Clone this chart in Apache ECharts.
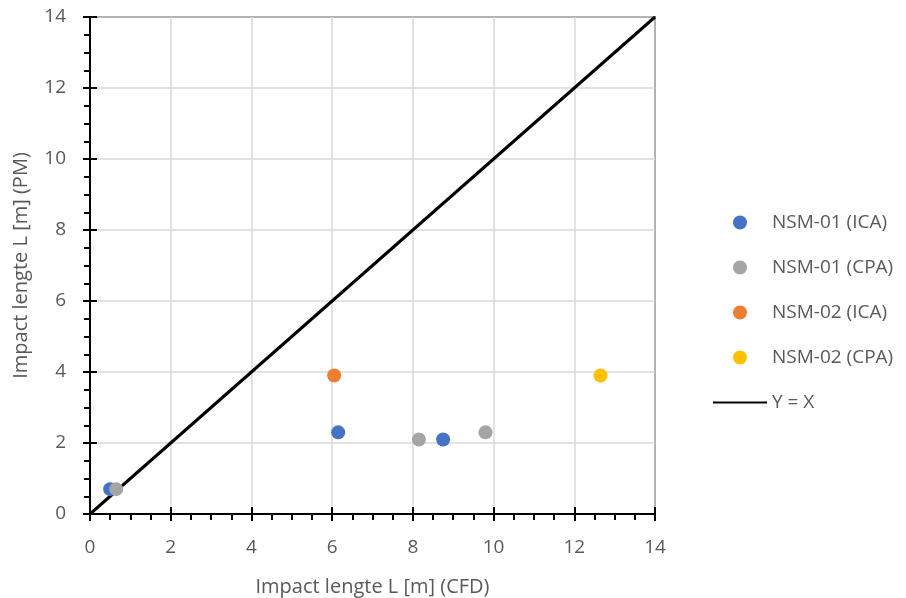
<!DOCTYPE html>
<html><head><meta charset="utf-8">
<script src="https://cdn.jsdelivr.net/npm/echarts@6/dist/echarts.min.js"></script>
<style>html,body{margin:0;padding:0;background:#fff}#c{width:906px;height:598px}</style>
</head><body><div id="c"></div>
<script>
const seriesNames = ['NSM-01 (ICA)', 'NSM-01 (CPA)', 'NSM-02 (ICA)', 'NSM-02 (CPA)'];
const seriesColors = ['#4472C4', '#A5A5A5', '#ED7D31', '#FFC000'];
const nsm01ICA = [[0.5, 0.7], [6.15, 2.3], [8.75, 2.1]];
const nsm01CPA = [[0.65, 0.7], [8.15, 2.1], [9.8, 2.3]];
const nsm02ICA = [[6.05, 3.9]];
const nsm02CPA = [[12.65, 3.9]];
const lineName = 'Y = X';
const lineData = [[0, 0], [14, 14]];
const xName = 'Impact lengte L [m] (CFD)';
const yName = 'Impact lengte L [m] (PM)';
const allData = [nsm01ICA, nsm01CPA, nsm02ICA, nsm02CPA];

const font = '"Open Sans", Lato, sans-serif';
const chart = echarts.init(document.getElementById('c'));
const axisBase = {
  type: 'value', min: 0, max: 14, interval: 2
};
chart.setOption({
  animation: false,
  textStyle: { fontFamily: font },
  grid: { left: 90, top: 17, right: 251, bottom: 84, containLabel: false, outerBoundsMode: 'none', show: true, borderColor: '#000', borderWidth: 1.5, backgroundColor: 'transparent' },
  xAxis: [
    Object.assign({}, axisBase, {
      name: xName, nameLocation: 'middle', nameGap: 63,
      nameTextStyle: { fontSize: 20, color: '#595959', fontFamily: font },
      axisLine: { show: true, lineStyle: { color: '#000', width: 2 } },
      axisTick: { show: true, length: 7, lineStyle: { color: '#000', width: 2 } },
      minorTick: { show: true, splitNumber: 4, length: 6, lineStyle: { color: '#000', width: 2 } },
      axisLabel: { fontSize: 19, color: '#595959', margin: 24, fontFamily: font },
      splitLine: { show: true, lineStyle: { color: '#D9D9D9', width: 1.5 } }
    }),
    Object.assign({}, axisBase, {
      position: 'bottom',
      axisLine: { show: false },
      axisTick: { show: true, inside: true, length: 7, lineStyle: { color: '#000', width: 2 } },
      axisLabel: { show: false },
      splitLine: { show: false }
    })
  ],
  yAxis: [
    Object.assign({}, axisBase, {
      name: yName, nameLocation: 'middle', nameGap: 59,
      nameTextStyle: { fontSize: 20, color: '#595959', fontFamily: font },
      axisLine: { show: true, lineStyle: { color: '#000', width: 2 } },
      axisTick: { show: true, length: 7, lineStyle: { color: '#000', width: 2 } },
      minorTick: { show: true, splitNumber: 4, length: 6, lineStyle: { color: '#000', width: 2 } },
      axisLabel: { fontSize: 19, color: '#595959', margin: 24, fontFamily: font },
      splitLine: { show: true, lineStyle: { color: '#D9D9D9', width: 1.5 } }
    }),
    Object.assign({}, axisBase, {
      position: 'left',
      axisLine: { show: false },
      axisTick: { show: true, inside: true, length: 7, lineStyle: { color: '#000', width: 2 } },
      axisLabel: { show: false },
      splitLine: { show: false }
    })
  ],
  legend: {
    orient: 'vertical', left: 707, top: 208,
    itemWidth: 54, itemHeight: 14, itemGap: 26,
    textStyle: { fontSize: 19, color: '#595959', fontFamily: font },
    data: seriesNames.concat([{ name: lineName, itemStyle: { opacity: 0 } }])
  },
  series: seriesNames.map((n, i) => ({
    name: n, type: 'scatter', data: allData[i], symbol: 'circle', symbolSize: 14,
    itemStyle: { color: seriesColors[i], opacity: 1 }, z: 3
  })).concat([{
    name: lineName, type: 'line', data: lineData, symbol: 'none', showSymbol: false,
    lineStyle: { color: '#000', width: 3 }, itemStyle: { color: '#000' }, z: 2
  }])
});
</script></body></html>
